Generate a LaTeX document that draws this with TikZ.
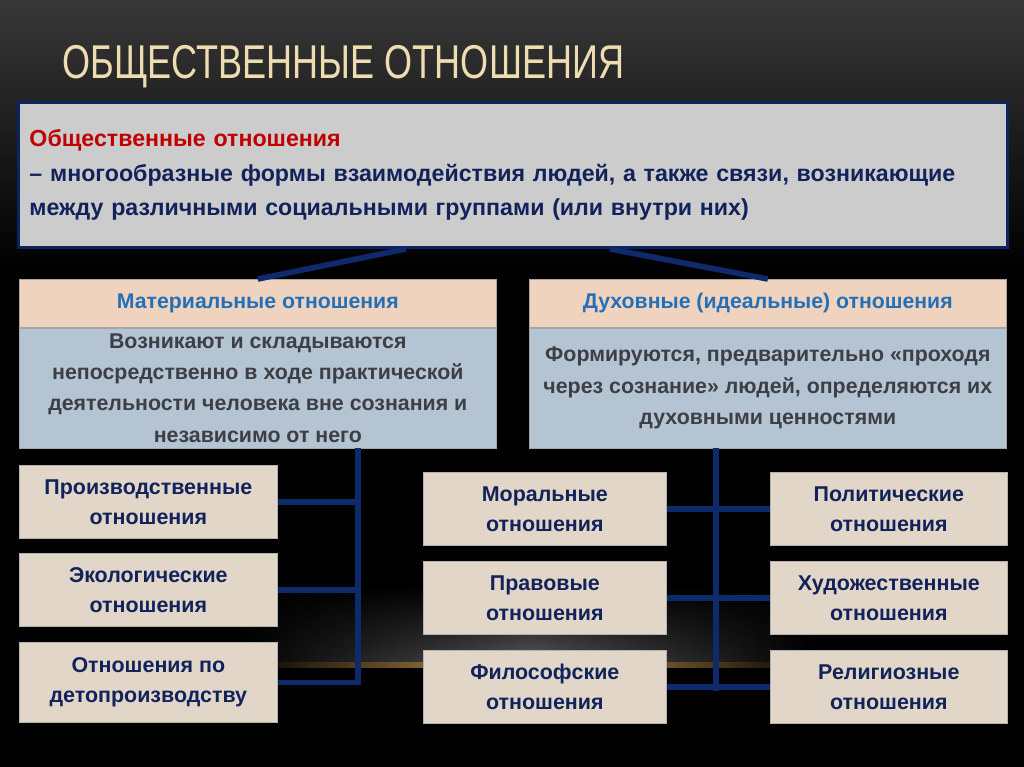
\documentclass[tikz,border=0pt]{standalone}
\usepackage{fontspec}
\setmainfont{Liberation Sans}
\newfontfamily\titlefont[FakeStretch=0.76]{Liberation Sans}
\usetikzlibrary{positioning,calc,fadings}

\definecolor{titlecol}{HTML}{EEDDB0}
\definecolor{defred}{HTML}{C00000}
\definecolor{navy}{HTML}{12225A}
\definecolor{framenavy}{HTML}{0B2360}
\definecolor{linknavy}{HTML}{0E2A6A}
\definecolor{peach}{HTML}{EFD3BE}
\definecolor{bluegray}{HTML}{B4C4D2}
\definecolor{boxbeige}{HTML}{E1D6C8}
\definecolor{bodygray}{HTML}{3C3F45}
\definecolor{headblue}{HTML}{2370B8}
\definecolor{glow}{HTML}{C8964E}

\tikzset{
    head/.style={draw=gray!70, fill=peach, text=headblue, inner sep=0pt,
        minimum width=9.54cm, minimum height=0.96cm,
        font=\bfseries\fontsize{12.1}{15}\selectfont},
    body/.style={draw=gray!70, fill=bluegray, text=bodygray, inner sep=0pt,
        minimum width=9.54cm, minimum height=2.4cm, align=center,
        font=\bfseries\fontsize{12.15}{17.8}\selectfont},
    kind/.style={draw=gray!60, fill=boxbeige, text=navy, inner sep=0pt,
        anchor=north west, minimum height=1.46cm, align=center,
        font=\bfseries\fontsize{12.2}{17}\selectfont},
    link/.style={draw=linknavy, line width=3.2pt}
}

\begin{document}
\begin{tikzpicture}[x=0.02cm, y=-0.02cm]
    % slide background
    \useasboundingbox (0,0) rectangle (1024,767);
    \fill[black] (0,0) rectangle (1024,767);
    \shade[top color=black!78, bottom color=black] (0,0) rectangle (1024,270);
    \shade[left color=black, right color=black, middle color=black!65, path fading=north] (240,585) rectangle (820,664);
    \shade[left color=black, right color=black, middle color=glow] (240,662) rectangle (820,667);

    \node[anchor=base west, text=titlecol, inner sep=0pt,
        font=\titlefont\fontsize{27}{30}\selectfont] (title) at (62,79) {ОБЩЕСТВЕННЫЕ ОТНОШЕНИЯ};

    % definition
    \node[draw=framenavy, line width=1.7pt, fill=black!20, anchor=north west,
        minimum width=19.78cm, minimum height=2.9cm, inner xsep=0.22cm, inner ysep=0pt,
        text width=19.34cm, align=left, text=navy,
        font=\bfseries\fontsize{13.2}{19.8}\selectfont] (def) at (17,101)
        {{\color{defred}Общественные отношения}\\
         – многообразные формы взаимодействия людей, а также связи, возникающие\\
         между различными социальными группами (или внутри них)};

    % two kinds
    \node[head, anchor=north west] (matHead) at (19,279) {Материальные отношения};
    \node[body, below=0pt of matHead] (matBody) {Возникают и складываются\\
        непосредственно в ходе практической\\ деятельности человека вне сознания и\\ независимо от него};
    \node[head, anchor=north west] (spHead) at (529,279) {Духовные (идеальные) отношения};
    \node[body, below=0pt of spHead] (spBody) {Формируются, предварительно «проходя\\
        через сознание» людей, определяются их\\ духовными ценностями};

    \draw[link] ($(def.south)+(-107,0)$) -- (matHead.north);
    \draw[link] ($(def.south)+(97,0)$) -- (spHead.north);

    % material relations
    \node[kind, minimum width=5.16cm] (prod) at (19,465) {Производственные\\ отношения};
    \node[kind, minimum width=5.16cm] (eco) at (19,553) {Экологические\\ отношения};
    \node[kind, minimum width=5.16cm, minimum height=1.6cm] (repro) at (19,642) {Отношения по\\ детопроизводству};

    \coordinate (trunkL) at ($(matBody.south)+(100,0)$);
    \draw[link] (trunkL) -- (trunkL |- repro.east) -- (repro.east);
    \draw[link] (prod.east) -- (prod.east -| trunkL);
    \draw[link] (eco.east) -- (eco.east -| trunkL);

    % spiritual relations
    \node[kind, minimum width=4.86cm] (moral) at (423,472) {Моральные\\ отношения};
    \node[kind, minimum width=4.86cm] (law) at (423,561) {Правовые\\ отношения};
    \node[kind, minimum width=4.86cm] (phil) at (423,650) {Философские\\ отношения};
    \node[kind, minimum width=4.74cm] (pol) at (770,472) {Политические\\ отношения};
    \node[kind, minimum width=4.74cm] (art) at (770,561) {Художественные\\ отношения};
    \node[kind, minimum width=4.74cm] (rel) at (770,650) {Религиозные\\ отношения};

    \coordinate (trunkR) at ($(spBody.south)+(-52,0)$);
    \draw[link] (trunkR) -- ($(trunkR |- phil.east)+(0,4)$);
    \draw[link] (moral.east) -- (pol.west);
    \draw[link] (law.east) -- (art.west);
    \draw[link] (phil.east) -- (rel.west);
\end{tikzpicture}
\end{document}
